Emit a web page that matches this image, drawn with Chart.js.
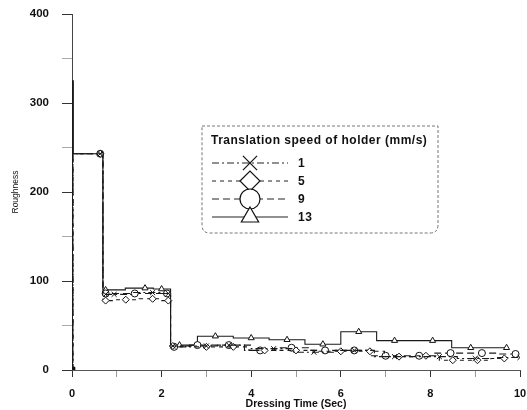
<!DOCTYPE html>
<html>
<head>
<meta charset="utf-8">
<script src="https://cdn.jsdelivr.net/npm/chart.js@4/dist/chart.umd.min.js"></script>
<style>
  html, body { margin: 0; padding: 0; background: #ffffff; }
  #wrap { width: 527px; height: 410px; position: relative; }
</style>
</head>
<body>
<div id="wrap"><canvas id="c" width="527" height="410"></canvas></div>
<script>
// ---- data ----
const legendTitle = 'Translation speed of holder (mm/s)';
const speeds = ['1', '5', '9', '13'];

const time1  = [0, 0.04, 0.63, 0.75, 0.94, 1.8, 2.15, 2.25, 3.0, 3.5, 4.5, 5.4, 6.3, 7.2, 8.2, 9.0, 10.0];
const rough1 = [0, 243, 243, 85, 85, 87, 86, 27, 27, 28, 24, 20, 22, 15, 15, 13, 14];

const time5  = [0, 0.04, 0.63, 0.75, 1.2, 1.8, 2.15, 2.25, 3.0, 3.6, 4.3, 5.0, 6.0, 6.65, 7.3, 7.9, 8.5, 9.05, 9.65];
const rough5 = [0, 243, 243, 78, 79, 80, 78, 27, 26, 26, 22, 22, 21, 21, 15, 16, 11, 11, 13];

const time9  = [0, 0.04, 0.63, 0.75, 1.4, 2.12, 2.28, 2.8, 3.5, 4.2, 4.9, 5.65, 6.3, 7.0, 7.75, 8.45, 9.15, 9.9];
const rough9 = [0, 243, 243, 86, 86, 86, 26, 28, 28, 22, 25, 22, 22, 16, 16, 19, 19, 18];

const time13  = [0, 0.02, 0.04, 0.63, 0.75, 1.63, 2.0, 2.4, 3.2, 4.0, 4.8, 5.6, 6.4, 7.2, 8.05, 8.9, 9.7];
const rough13 = [0, 325, 243, 243, 90, 92, 91, 28, 38, 36, 34, 29, 43, 33, 33, 25, 25];

const originTime = [0];
const originRough = [0];

const xTicks = [0, 2, 4, 6, 8, 10];
const yTicks = [0, 100, 200, 300, 400];

// ---- build ----
const toPts = (t, r) => t.map((x, i) => ({ x: x, y: r[i] }));
const seriesDefs = [
  { label: speeds[0], data: toPts(time1, rough1),  pointStyle: 'crossRot', dash: [7, 3, 2, 3] },
  { label: speeds[1], data: toPts(time5, rough5),  pointStyle: 'rectRot',  dash: [4, 4] },
  { label: speeds[2], data: toPts(time9, rough9),  pointStyle: 'circle',   dash: [7, 4] },
  { label: speeds[3], data: toPts(time13, rough13), pointStyle: 'triangle', dash: [] }
];

const datasets = seriesDefs.map(s => ({
  label: s.label,
  data: s.data,
  stepped: 'middle',
  borderColor: '#1a1a1a',
  borderWidth: 1.1,
  borderDash: s.dash,
  pointStyle: s.pointStyle,
  pointRadius: ctx => (ctx.raw && ctx.raw.x < 0.1 ? 0 : 3.5),
  pointBorderColor: '#111',
  pointBackgroundColor: '#ffffff',
  pointBorderWidth: 1,
  fill: false
}));
datasets.push({
  label: 'origin',
  data: toPts(originTime, originRough),
  showLine: false,
  pointStyle: 'rect',
  pointRadius: 4,
  pointBackgroundColor: '#000',
  pointBorderColor: '#000'
});

const FONT = '"Liberation Sans", Arial, sans-serif';

const boxLegend = {
  id: 'boxLegend',
  afterDraw(chart) {
    const ctx = chart.ctx;
    const L = 202, T = 126, R = 438, B = 233, rad = 8;
    ctx.save();
    ctx.setLineDash([3, 2]);
    ctx.strokeStyle = '#777';
    ctx.lineWidth = 1;
    ctx.beginPath();
    ctx.moveTo(L, T);
    ctx.lineTo(R, T);
    ctx.lineTo(R, B - rad);
    ctx.quadraticCurveTo(R, B, R - rad, B);
    ctx.lineTo(L + rad, B);
    ctx.quadraticCurveTo(L, B, L, B - rad);
    ctx.closePath();
    ctx.stroke();

    ctx.setLineDash([]);
    ctx.fillStyle = '#111';
    ctx.font = 'bold 12px ' + FONT;
    ctx.textBaseline = 'middle';
    ctx.textAlign = 'left';
    try { ctx.letterSpacing = '0.5px'; } catch (e) {}
    ctx.fillText(legendTitle, 211, 141);

    const rows = [163, 181, 199, 217];
    seriesDefs.forEach((s, i) => {
      const y = rows[i];
      ctx.save();
      ctx.strokeStyle = '#222';
      ctx.lineWidth = 1;
      ctx.setLineDash(s.dash);
      ctx.beginPath();
      ctx.moveTo(212, y);
      ctx.lineTo(288, y);
      ctx.stroke();
      ctx.restore();
      ctx.save();
      ctx.setLineDash([]);
      ctx.fillStyle = '#ffffff';
      ctx.strokeStyle = '#111';
      ctx.lineWidth = 1.2;
      Chart.helpers.drawPoint(ctx, { pointStyle: s.pointStyle, radius: 10, borderWidth: 1.2, rotation: 0 }, 250, y);
      ctx.restore();
      ctx.fillStyle = '#111';
      ctx.font = 'bold 12px ' + FONT;
      ctx.fillText(s.label, 298, y + 1);
    });
    try { ctx.letterSpacing = '0px'; } catch (e) {}
    ctx.restore();
  }
};

new Chart(document.getElementById('c'), {
  type: 'line',
  data: { datasets: datasets },
  plugins: [boxLegend],
  options: {
    responsive: false,
    animation: false,
    layout: { padding: { top: 14, right: 7, left: 0, bottom: 0 } },
    plugins: { legend: { display: false }, tooltip: { enabled: false } },
    scales: {
      x: {
        type: 'linear',
        min: xTicks[0],
        max: xTicks[xTicks.length - 1],
        afterFit: s => { s.height = 40; s.paddingLeft = 0; s.paddingRight = 0; },
        ticks: {
          stepSize: 1,
          autoSkip: false,
          maxRotation: 0,
          padding: 10,
          color: '#111',
          font: { family: FONT, size: 11, weight: 'bold' },
          callback: v => (xTicks.includes(v) ? String(v) : '')
        },
        grid: {
          drawOnChartArea: false,
          drawTicks: true,
          tickLength: 7,
          tickColor: c => (c.tick && xTicks.includes(c.tick.value) ? '#333' : '#999')
        },
        border: { display: true, color: '#555', dash: [6, 2], width: 1 },
        title: {
          display: true,
          text: 'Dressing Time (Sec)',
          color: '#111',
          padding: { top: -5, bottom: 0 },
          font: { family: FONT, size: 10.5, weight: 'bold' }
        }
      },
      y: {
        type: 'linear',
        min: yTicks[0],
        max: yTicks[yTicks.length - 1],
        afterFit: s => { s.width = 72; s.paddingTop = 0; s.paddingBottom = 0; },
        ticks: {
          stepSize: 50,
          autoSkip: false,
          padding: 13,
          color: '#111',
          font: { family: FONT, size: 11.5, weight: 'bold' },
          callback: v => (yTicks.includes(v) ? String(v) : '')
        },
        grid: {
          drawOnChartArea: false,
          drawTicks: true,
          tickLength: 10,
          tickColor: c => (c.tick && yTicks.includes(c.tick.value) ? '#333' : '#aaa')
        },
        border: { display: true, color: '#444', dash: [6, 2, 2, 2], width: 1 },
        title: {
          display: true,
          text: 'Roughness',
          color: '#111',
          padding: { top: 11, bottom: 0 },
          font: { family: FONT, size: 8.5 }
        }
      }
    }
  }
});
</script>
</body>
</html>
